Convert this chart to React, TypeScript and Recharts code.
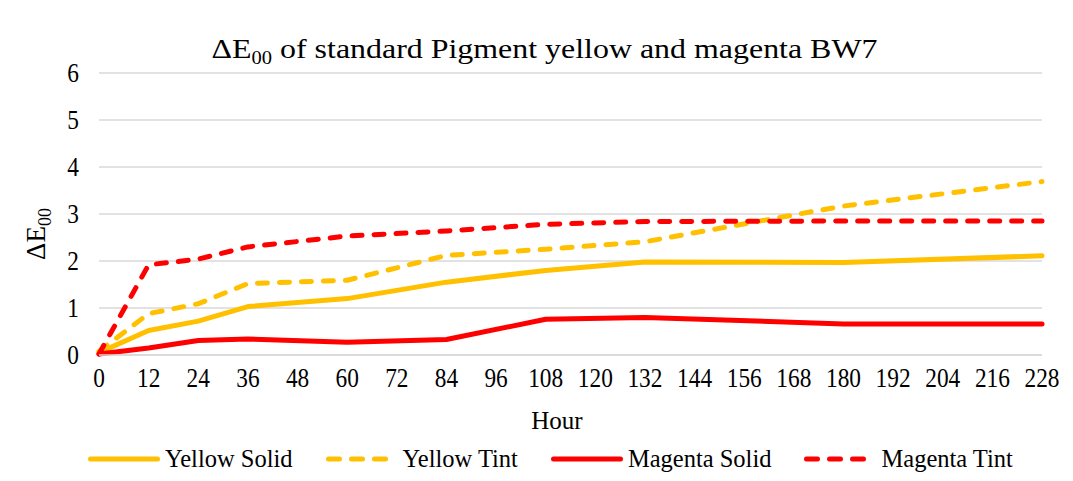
import { LineChart, Line, XAxis, YAxis, CartesianGrid } from "recharts";

const hours = [0, 12, 24, 36, 60, 84, 108, 132, 180, 228];
const yellowSolid = [0.05, 0.52, 0.72, 1.03, 1.2, 1.55, 1.8, 1.98, 1.97, 2.11];
const yellowTint = [0.08, 0.88, 1.09, 1.52, 1.59, 2.12, 2.25, 2.41, 3.17, 3.69];
const magentaSolid = [0.02, 0.15, 0.31, 0.34, 0.27, 0.33, 0.76, 0.8, 0.66, 0.66];
const magentaTint = [0.02, 1.92, 2.04, 2.3, 2.53, 2.64, 2.78, 2.84, 2.85, 2.85];

const xTicks = [0, 12, 24, 36, 48, 60, 72, 84, 96, 108, 120, 132, 144, 156, 168, 180, 192, 204, 216, 228];
const yTicks = [0, 1, 2, 3, 4, 5, 6];

const YELLOW = "#FFC000";
const RED = "#FF0000";
const FONT = "'Liberation Serif', 'Times New Roman', serif";

const data = hours.map((h, i) => ({
  hour: h,
  yellowSolid: yellowSolid[i],
  yellowTint: yellowTint[i],
  magentaSolid: magentaSolid[i],
  magentaTint: magentaTint[i],
}));

const series = [
  { key: "yellowSolid", name: "Yellow Solid", color: YELLOW, dashed: false },
  { key: "yellowTint", name: "Yellow Tint", color: YELLOW, dashed: true },
  { key: "magentaSolid", name: "Magenta Solid", color: RED, dashed: false },
  { key: "magentaTint", name: "Magenta Tint", color: RED, dashed: true },
];

// narrow, tall digits like the original export
function XTick(props: any) {
  const { x, y, payload } = props;
  return (
    <text
      transform={`translate(${x},${y}) scale(0.88,1)`}
      textAnchor="middle"
      dy="0.71em"
      fontSize={26.5}
      fontFamily={FONT}
      fill="#000"
    >
      {payload.value}
    </text>
  );
}

function YTick(props: any) {
  const { x, y, payload } = props;
  return (
    <text
      transform={`translate(${x},${y}) scale(0.88,1)`}
      textAnchor="end"
      dy="0.355em"
      fontSize={26.5}
      fontFamily={FONT}
      fill="#000"
    >
      {payload.value}
    </text>
  );
}

export default function App() {
  return (
    <div style={{ position: "relative", width: 1065, height: 473, fontFamily: FONT, color: "#000" }}>
      <div
        style={{
          position: "absolute",
          left: -1,
          top: -1,
          width: 1066,
          height: 474,
          borderTop: "1px solid #D9D9D9",
          borderLeft: "1px solid #D9D9D9",
          boxSizing: "border-box",
        }}
      />
      <LineChart
        width={1065}
        height={473}
        data={data}
        margin={{ top: 65, right: 31, left: 0, bottom: 86 }}
      >
        <CartesianGrid vertical={false} stroke="#D9D9D9" strokeWidth={1.5} />
        <XAxis
          dataKey="hour"
          type="number"
          domain={[0, 228]}
          ticks={xTicks}
          interval={0}
          height={40}
          tick={<XTick />}
          tickLine={false}
          axisLine={{ stroke: "#D9D9D9", strokeWidth: 1.5 }}
          tickMargin={7}
        />
        <YAxis
          domain={[0, 6]}
          ticks={yTicks}
          width={91}
          tick={<YTick />}
          tickLine={false}
          axisLine={false}
          tickMargin={14}
        />
        {series.map((s) => (
          <Line
            key={s.key}
            type="linear"
            dataKey={s.key}
            name={s.name}
            stroke={s.color}
            strokeWidth={5}
            strokeDasharray={s.dashed ? "10 12" : undefined}
            strokeLinecap="round"
            strokeLinejoin="round"
            dot={false}
            activeDot={false}
            isAnimationActive={false}
          />
        ))}
      </LineChart>

      <div
        style={{
          position: "absolute",
          left: 4,
          top: 27,
          width: 1065,
          textAlign: "center",
          fontSize: 28,
          lineHeight: "28px",
          whiteSpace: "nowrap",
          transform: "scaleX(1.14)",
        }}
      >
        ΔE<sub style={{ fontSize: 18, verticalAlign: -6 }}>00</sub> of standard Pigment yellow and magenta BW7
      </div>

      <div
        style={{
          position: "absolute",
          left: 33 - 60,
          top: 208,
          width: 120,
          textAlign: "center",
          fontSize: 27,
          lineHeight: "27px",
          transform: "rotate(-90deg)",
          whiteSpace: "nowrap",
        }}
      >
        ΔE<sub style={{ fontSize: 18, verticalAlign: -6 }}>00</sub>
      </div>

      <div
        style={{
          position: "absolute",
          left: 449,
          top: 400,
          width: 200,
          textAlign: "center",
          fontSize: 25,
          lineHeight: "25px",
        }}
      >
        Hour
      </div>

      <div
        style={{
          position: "absolute",
          left: 80,
          top: 438,
          display: "flex",
          alignItems: "center",
          gap: 33,
          fontSize: 24.5,
          lineHeight: "26px",
          whiteSpace: "nowrap",
        }}
      >
        {series.map((s) => (
          <div key={s.key} style={{ display: "flex", alignItems: "center", gap: 5 }}>
            <svg width={72} height={10}>
              <line
                x1={2.5}
                y1={5}
                x2={69.5}
                y2={5}
                stroke={s.color}
                strokeWidth={5}
                strokeLinecap="round"
                strokeDasharray={s.dashed ? "11 12" : undefined}
              />
            </svg>
            <span>{s.name}</span>
          </div>
        ))}
      </div>
    </div>
  );
}
